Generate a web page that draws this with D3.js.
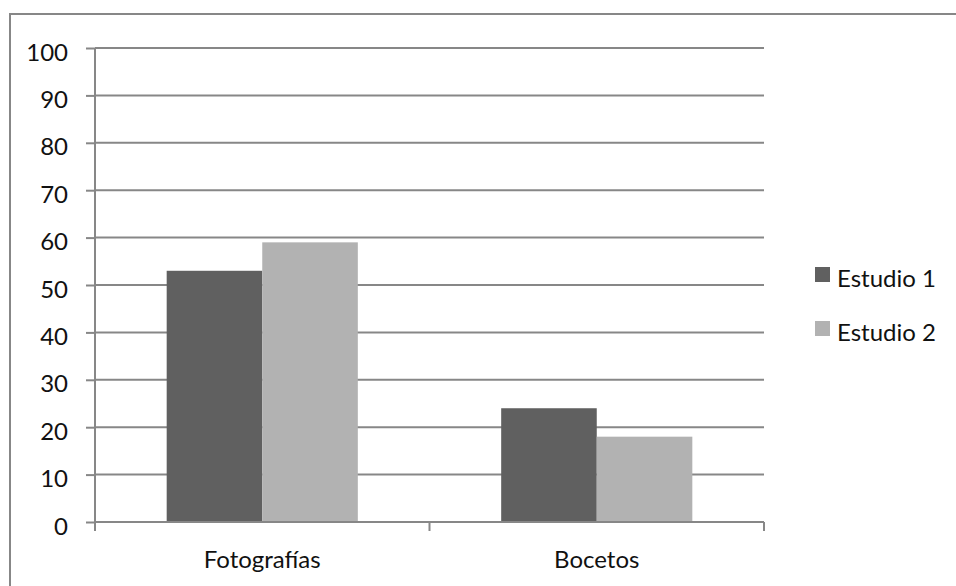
<!DOCTYPE html>
<html>
<head>
<meta charset="utf-8">
<script src="https://cdn.jsdelivr.net/npm/d3@7"></script>
<style>
  html, body { margin: 0; padding: 0; background: #fff; }
  svg { display: block; }
  text { font-family: Lato, "Open Sans", sans-serif; fill: #111; }
</style>
</head>
<body>
<svg id="chart" width="956" height="586"></svg>
<script>
const categories = ["Fotografías", "Bocetos"];
const seriesNames = ["Estudio 1", "Estudio 2"];
const estudio1 = [53, 24];
const estudio2 = [59, 18];
const yTicks = [0, 10, 20, 30, 40, 50, 60, 70, 80, 90, 100];
const colors = ["#606060", "#b2b2b2"];

const svg = d3.select("#chart");
const plot = { left: 95, right: 764, top: 48, bottom: 522 };
const lineColor = "#878787";
const fontSize = 24;

// outer frame
svg.append("rect")
  .attr("x", 10).attr("y", 14).attr("width", 960).attr("height", 600)
  .attr("fill", "none").attr("stroke", lineColor).attr("stroke-width", 2);

const y = d3.scaleLinear().domain([0, 100]).range([plot.bottom, plot.top]);
const x0 = d3.scaleBand().domain(categories).range([plot.left, plot.right]);
// gap width of 150% between groups
const barW = x0.bandwidth() / 3.5;
const x1 = d3.scaleBand().domain(seriesNames).range([0, barW * 2]);

// horizontal gridlines
svg.append("g").selectAll("line").data(yTicks.filter(d => d > 0)).join("line")
  .attr("x1", plot.left).attr("x2", plot.right)
  .attr("y1", d => y(d)).attr("y2", d => y(d))
  .attr("stroke", lineColor).attr("stroke-width", 2);

// bars
const rows = categories.map((c, i) => ({ cat: c, vals: [estudio1[i], estudio2[i]] }));
const groups = svg.append("g").selectAll("g").data(rows).join("g")
  .attr("transform", d => `translate(${x0(d.cat) + (x0.bandwidth() - barW * 2) / 2},0)`);
groups.selectAll("rect").data(d => d.vals.map((v, j) => ({ v, s: seriesNames[j], j }))).join("rect")
  .attr("x", d => x1(d.s))
  .attr("width", x1.bandwidth())
  .attr("y", d => y(d.v))
  .attr("height", d => y(0) - y(d.v))
  .attr("fill", d => colors[d.j]);

// y axis
const yAxis = d3.axisLeft(y).tickValues(yTicks).tickSize(9).tickPadding(18);
const yg = svg.append("g").attr("transform", `translate(${plot.left},0)`).call(yAxis);
yg.select(".domain").remove();
yg.selectAll(".tick line").attr("stroke", lineColor).attr("stroke-width", 2);
yg.selectAll(".tick text").attr("font-size", fontSize).attr("fill", "#111")
  .attr("dy", 12)
  .style("font-family", "Lato, 'Open Sans', sans-serif");
yg.append("line").attr("x1", 0).attr("x2", 0)
  .attr("y1", plot.top).attr("y2", plot.bottom + 9)
  .attr("stroke", lineColor).attr("stroke-width", 2);

// x axis
const xg = svg.append("g").attr("transform", `translate(0,${plot.bottom})`);
xg.append("line").attr("x1", plot.left).attr("x2", plot.right)
  .attr("y1", 0).attr("y2", 0).attr("stroke", lineColor).attr("stroke-width", 2);
const boundaries = categories.map(c => x0(c)).concat([x0(categories[categories.length - 1]) + x0.bandwidth()]);
xg.selectAll("line.tk").data(boundaries.slice(1)).join("line").attr("class", "tk")
  .attr("x1", d => d).attr("x2", d => d).attr("y1", 0).attr("y2", 9)
  .attr("stroke", lineColor).attr("stroke-width", 2);
xg.selectAll("text").data(categories).join("text")
  .attr("x", d => x0(d) + x0.bandwidth() / 2)
  .attr("y", 46)
  .attr("text-anchor", "middle")
  .attr("font-size", fontSize)
  .text(d => d);

// legend
const lg = svg.append("g").attr("transform", "translate(815,267)");
const items = lg.selectAll("g").data(seriesNames).join("g")
  .attr("transform", (d, i) => `translate(0,${i * 54})`);
items.append("rect").attr("width", 15).attr("height", 15)
  .attr("fill", (d, i) => colors[i]);
items.append("text").attr("x", 22).attr("y", 20)
  .attr("font-size", fontSize).text(d => d);
</script>
</body>
</html>
